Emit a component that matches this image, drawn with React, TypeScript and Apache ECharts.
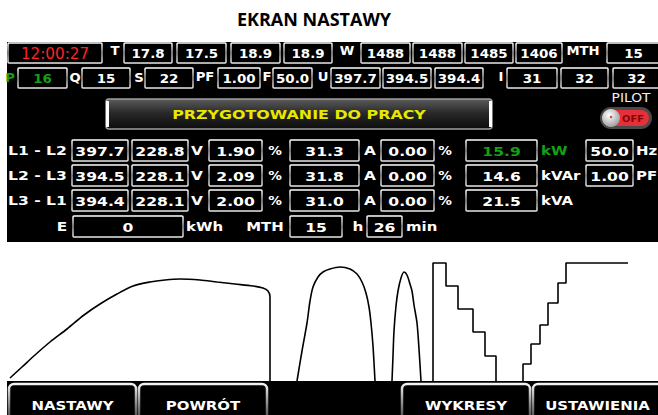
import React, { useEffect, useRef } from "react";
import * as echarts from "echarts";

// ---------- data ----------
const TITLE = "EKRAN NASTAWY";
const CLOCK = "12:00:27";
const TEMPERATURES = ["17.8", "17.5", "18.9", "18.9"];
const SPEEDS = ["1488", "1488", "1485", "1406"];
const MTH_TOP = "15";
const POWER_PQS = ["16", "15", "22"];
const PF_TOP = "1.00";
const FREQ_TOP = "50.0";
const LINE_VOLTAGES = ["397.7", "394.5", "394.4"];
const CURRENTS_TOP = ["31", "32", "32"];
const STATUS = "PRZYGOTOWANIE DO PRACY";
const PILOT_LABEL = "PILOT";
const PILOT_STATE = "OFF";
const PHASE_LABELS = ["L1 - L2", "L2 - L3", "L3 - L1"];
const PHASE_VOLTAGES = ["228.8", "228.1", "228.1"];
const VOLTAGE_ASYM = ["1.90", "2.09", "2.00"];
const PHASE_CURRENTS = ["31.3", "31.8", "31.0"];
const CURRENT_ASYM = ["0.00", "0.00", "0.00"];
const POWERS = ["15.9", "14.6", "21.5"];
const POWER_UNITS = ["kW", "kVAr", "kVA"];
const GRID_VALUES = ["50.0", "1.00"];
const GRID_UNITS = ["Hz", "PF"];
const ENERGY = "0";
const MTH_HOURS = "15";
const MTH_MINUTES = "26";
const BUTTONS = ["NASTAWY", "POWRÓT", "WYKRESY", "USTAWIENIA"];

// trend curves: [sample, level]
const RAMP = [[10, 3], [22, 14], [35, 26], [50, 39], [67, 52], [84, 66], [100, 77], [117, 87], [133, 95], [150, 99], [165, 101], [180, 102], [200, 101], [217, 99], [235, 97], [253, 95], [263, 93], [268, 90], [270, 84], [270, 0]];
const HUMP_WIDE = [[297, 0], [302, 30], [307, 58], [310, 80], [313, 94], [318, 104], [323, 109], [330, 112], [340, 114], [350, 112], [357, 107], [362, 99], [366, 88], [369, 74], [371, 58], [373, 35], [375, 0]];
const HUMP_NARROW = [[392, 0], [393, 25], [394, 50], [396, 75], [398, 90], [401, 103], [404, 109], [407, 106], [410, 97], [412, 90], [414, 76], [417, 58], [419, 32], [421, 0]];
const STEPS_DOWN = [[433, 0], [433, 118], [446, 95], [458, 72], [473, 49], [485, 25], [496, 0]];
const STEPS_UP = [[523, 0], [531, 17], [540, 37], [548, 56], [558, 78], [566, 98], [628, 118]];

// ---------- helpers ----------
const FONT = "DejaVu Sans";

function txt(text: string, x: number, y: number, size: number, color = "#fff", o: any = {}) {
  return {
    type: "text",
    x,
    y,
    scaleX: o.sx ?? 1.18,
    z: 30,
    silent: true,
    style: {
      text,
      x: 0,
      y: 0,
      fill: color,
      fontSize: size,
      fontFamily: o.family ?? FONT,
      fontWeight: o.w ?? "bold",
      textAlign: o.align ?? "center",
      textVerticalAlign: "middle",
    },
  };
}

function box(x1: number, y1: number, x2: number, y2: number) {
  return {
    type: "rect",
    z: 20,
    silent: true,
    shape: { x: x1, y: y1, width: x2 - x1, height: y2 - y1, r: 1 },
    style: {
      fill: "#000",
      stroke: new echarts.graphic.LinearGradient(0, 0, 0, 1, [
        { offset: 0, color: "#ffffff" },
        { offset: 0.5, color: "#9a9a9a" },
        { offset: 1, color: "#e8e8e8" },
      ]),
      lineWidth: 1.5,
    },
  };
}

function valueBox(x1: number, y1: number, x2: number, y2: number, value: string, size: number, color = "#fff", sx = 1.18) {
  return [box(x1, y1, x2, y2), txt(value, (x1 + x2) / 2, (y1 + y2) / 2 + 0.5, size, color, { sx })];
}

function buildGraphics() {
  const g: any[] = [];
  // title
  g.push(txt(TITLE, 314, 18.5, 18, "#000", { family: "Open Sans", sx: 1, w: "bold" }));
  // panel
  g.push({ type: "rect", z: 10, silent: true, shape: { x: 7, y: 42, width: 651, height: 200 }, style: { fill: "#000" } });

  // row 1
  const r1 = [43, 63];
  g.push(box(8, r1[0], 102, r1[1]));
  g.push(txt(CLOCK, 55, 53.5, 16, "#ff2222", { w: "normal", sx: 0.95 }));
  g.push(txt("T", 115, 51, 12, "#fff", { sx: 1.1 }));
  const tempX = [[124, 172], [177, 226], [231, 280], [284, 332]];
  TEMPERATURES.forEach((v, i) => g.push(...valueBox(tempX[i][0], r1[0], tempX[i][1], r1[1], v, 12, "#fff", 1.12)));
  g.push(txt("W", 347, 51, 12, "#fff", { sx: 1.1 }));
  const spX = [[361, 410], [413, 462], [465, 513], [516, 562]];
  SPEEDS.forEach((v, i) => g.push(...valueBox(spX[i][0], r1[0], spX[i][1], r1[1], v, 12, "#fff", 1.12)));
  g.push(txt("MTH", 583, 51, 12, "#fff", { sx: 1.1 }));
  g.push(...valueBox(607, r1[0], 660, r1[1], MTH_TOP, 12, "#fff", 1.12));

  // row 2
  const r2 = [68, 88];
  const green = "#14a014";
  const pqsLabels = ["P", "Q", "S"];
  const pqsLabelX = [10, 75, 139];
  const pqsX = [[18, 67], [82, 130], [145, 193]];
  POWER_PQS.forEach((v, i) => {
    g.push(txt(pqsLabels[i], pqsLabelX[i], 78, 12, i === 0 ? green : "#fff", { sx: 1.1 }));
    g.push(...valueBox(pqsX[i][0], r2[0], pqsX[i][1], r2[1], v, 12, i === 0 ? green : "#fff", 1.12));
  });
  g.push(txt("PF", 205, 77, 12, "#fff", { sx: 1.1 }));
  g.push(...valueBox(218, r2[0], 260, r2[1], PF_TOP, 12, "#fff", 1.12));
  g.push(txt("F", 267, 77, 12, "#fff", { sx: 1.1 }));
  g.push(...valueBox(273, r2[0], 312, r2[1], FREQ_TOP, 12, "#fff", 1.12));
  g.push(txt("U", 323, 77, 12, "#fff", { sx: 1.1 }));
  const uX = [[331, 380], [383, 431], [435, 483]];
  LINE_VOLTAGES.forEach((v, i) => g.push(...valueBox(uX[i][0], r2[0], uX[i][1], r2[1], v, 12, "#fff", 1.12)));
  g.push(txt("I", 501, 77, 12, "#fff", { sx: 1.1 }));
  const iX = [[507, 557], [561, 608], [613, 660]];
  CURRENTS_TOP.forEach((v, i) => g.push(...valueBox(iX[i][0], r2[0], iX[i][1], r2[1], v, 12, "#fff", 1.12)));

  // status banner
  g.push({
    type: "rect", z: 20, silent: true,
    shape: { x: 106, y: 99, width: 386, height: 30, r: 3 },
    style: {
      fill: new echarts.graphic.LinearGradient(0, 0, 0, 1, [
        { offset: 0, color: "#5c5c5c" },
        { offset: 0.45, color: "#2a2a2a" },
        { offset: 1, color: "#0c0c0c" },
      ]),
      stroke: "#a0a0a0",
      lineWidth: 1.5,
    },
  });
  g.push({ type: "line", z: 21, silent: true, shape: { x1: 107.5, y1: 101, x2: 107.5, y2: 127 }, style: { stroke: "#ffffff", lineWidth: 3 } });
  g.push({ type: "line", z: 21, silent: true, shape: { x1: 490.5, y1: 101, x2: 490.5, y2: 127 }, style: { stroke: "#ffffff", lineWidth: 3 } });
  g.push(txt(STATUS, 299, 114.5, 13, "#e8e800", { sx: 1.22 }));

  // pilot toggle
  g.push(txt(PILOT_LABEL, 631, 98, 12, "#f0f0f0", { w: "normal", sx: 1.15 }));
  g.push({ type: "rect", z: 20, silent: true, shape: { x: 600, y: 107, width: 52, height: 22, r: 11 }, style: { fill: "#4a4a4a" } });
  g.push({ type: "rect", z: 21, silent: true, shape: { x: 603, y: 110, width: 46, height: 16, r: 8 }, style: { fill: "#e2303c" } });
  g.push({
    type: "circle", z: 22, silent: true, shape: { cx: 611, cy: 118, r: 9 },
    style: {
      fill: new echarts.graphic.RadialGradient(0.4, 0.35, 0.7, [
        { offset: 0, color: "#ffffff" },
        { offset: 1, color: "#9a9a9a" },
      ]),
    },
  });
  g.push({ type: "circle", z: 23, silent: true, shape: { cx: 611, cy: 117, r: 1.2 }, style: { fill: "#c04040" } });
  g.push(txt(PILOT_STATE, 633, 118.5, 9, "#8a0000", { sx: 1.1 }));

  // measurement rows
  const rowTops = [140, 165, 190];
  const H = 21;
  rowTops.forEach((top, i) => {
    const cy = top + H / 2;
    const bot = top + H;
    g.push(txt(PHASE_LABELS[i], 8, cy, 13, "#fff", { align: "left", sx: 1.2 }));
    g.push(...valueBox(72, top, 128, bot, LINE_VOLTAGES[i], 13, "#fff", 1.2));
    g.push(...valueBox(132, top, 188, bot, PHASE_VOLTAGES[i], 13, "#fff", 1.2));
    g.push(txt("V", 197, cy, 13));
    g.push(...valueBox(209, top, 262, bot, VOLTAGE_ASYM[i], 13, "#fff", 1.2));
    g.push(txt("%", 275, cy, 13, "#fff", { sx: 1.05 }));
    g.push(...valueBox(290, top, 359, bot, PHASE_CURRENTS[i], 13, "#fff", 1.2));
    g.push(txt("A", 370, cy, 13));
    g.push(...valueBox(381, top, 434, bot, CURRENT_ASYM[i], 13, "#fff", 1.2));
    g.push(txt("%", 445, cy, 13, "#fff", { sx: 1.05 }));
    const pc = i === 0 ? green : "#fff";
    g.push(...valueBox(466, top, 537, bot, POWERS[i], 13, pc, 1.2));
    g.push(txt(POWER_UNITS[i], 541, cy, 13, pc, { align: "left", sx: 1.15 }));
    if (i < GRID_VALUES.length) {
      g.push(...valueBox(586, top, 633, bot, GRID_VALUES[i], 13, "#fff", 1.2));
      g.push(txt(GRID_UNITS[i], 636, cy, 13, "#fff", { align: "left", sx: 1.15 }));
    }
  });

  // energy / mth row
  const et = 216, eb = 237, ecy = 226.5;
  g.push(txt("E", 62, ecy, 13));
  g.push(...valueBox(73, et, 183, eb, ENERGY, 13, "#fff", 1.2));
  g.push(txt("kWh", 186, ecy, 13, "#fff", { align: "left", sx: 1.15 }));
  g.push(txt("MTH", 265, ecy, 13, "#fff", { sx: 1.15 }));
  g.push(...valueBox(290, et, 342, eb, MTH_HOURS, 13, "#fff", 1.2));
  g.push(txt("h", 358, ecy, 13));
  g.push(...valueBox(367, et, 402, eb, MTH_MINUTES, 13, "#fff", 1.2));
  g.push(txt("min", 406, ecy, 13, "#fff", { align: "left", sx: 1.15 }));

  // bottom bar with buttons
  g.push({ type: "rect", z: 50, silent: true, shape: { x: 7, y: 381, width: 651, height: 34 }, style: { fill: "#000" } });
  const btnX = [[9, 136], [139, 267], [402, 530], [533, 662]];
  BUTTONS.forEach((b, i) => {
    const [x1, x2] = btnX[i];
    g.push({
      type: "rect", z: 51, silent: true,
      shape: { x: x1, y: 384, width: x2 - x1, height: 40, r: [5, 5, 0, 0] },
      style: {
        fill: "#000",
        stroke: new echarts.graphic.LinearGradient(0, 0, 0, 1, [
          { offset: 0, color: "#f2f2f2" },
          { offset: 0.5, color: "#8a8a8a" },
          { offset: 1, color: "#333" },
        ]),
        lineWidth: 2.5,
      },
    });
    g.push({ ...txt(b, (x1 + x2) / 2, 405, 13, "#fff", { sx: 1.15 }), z: 52 });
  });
  return g;
}

function lineSeries(name: string, data: number[][], extra: any = {}) {
  return {
    name,
    type: "line",
    data,
    showSymbol: false,
    symbol: "none",
    silent: true,
    lineStyle: { color: "#000", width: 1.6 },
    z: 5,
    ...extra,
  };
}

export default function App() {
  const ref = useRef<HTMLDivElement>(null);
  useEffect(() => {
    if (!ref.current) return;
    const chart = echarts.init(ref.current, null, { renderer: "svg" });
    chart.setOption({
      animation: false,
      backgroundColor: "#ffffff",
      grid: { left: 0, right: 0, top: 242, bottom: 34, containLabel: false },
      xAxis: { type: "value", min: 0, max: 658, show: false },
      yAxis: { type: "value", min: 0, max: 139, show: false },
      series: [
        lineSeries("ramp", RAMP, { smooth: 0.3 }),
        lineSeries("humpWide", HUMP_WIDE, { smooth: 0.3 }),
        lineSeries("humpNarrow", HUMP_NARROW, { smooth: 0.3 }),
        lineSeries("stepsDown", STEPS_DOWN, { step: "end" }),
        lineSeries("stepsUp", STEPS_UP, { step: "start" }),
      ],
      graphic: { elements: buildGraphics() },
    });
    return () => chart.dispose();
  }, []);
  return <div ref={ref} style={{ position: "fixed", left: 0, top: 0, width: 658, height: 415 }} />;
}
